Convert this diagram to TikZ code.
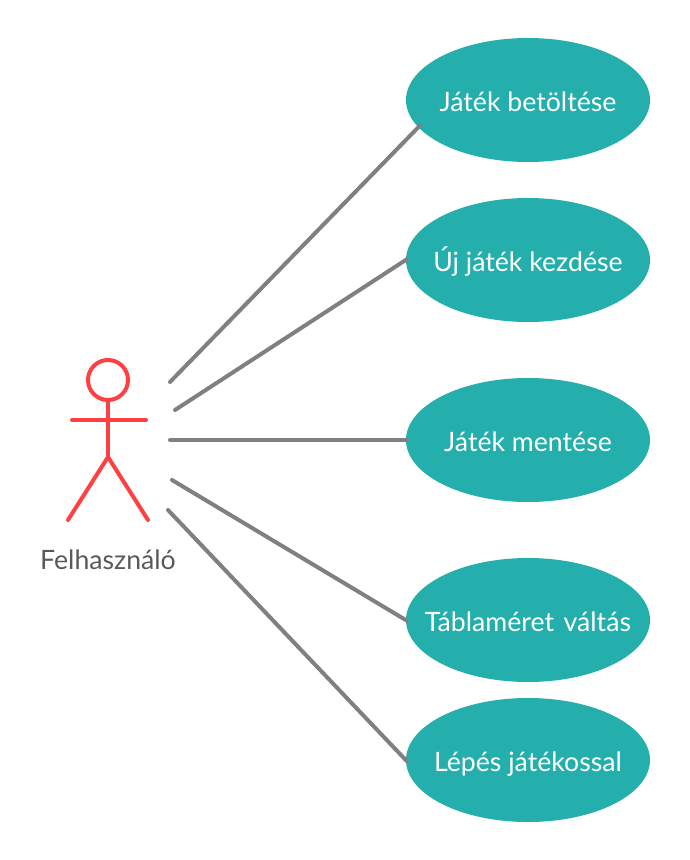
\documentclass[tikz,border=0pt]{standalone}
\usepackage{fontspec}
\setmainfont{Lato}
\usetikzlibrary{shapes.geometric}
\definecolor{usecasefill}{RGB}{36,175,173}
\definecolor{actorred}{RGB}{255,64,66}
\definecolor{linkgray}{RGB}{128,128,128}
\definecolor{labelgray}{RGB}{89,89,89}
\tikzset{
  usecase/.style={ellipse,fill=usecasefill,text=white,minimum width=183pt,minimum height=93pt,inner ysep=0pt,inner xsep=-30pt,text height=18.8pt,text depth=2pt,font=\fontsize{20}{24}\selectfont},
  actorline/.style={draw=actorred,line width=3pt,line cap=round,line join=round},
  link/.style={draw=linkgray,line width=3pt,line cap=round,shorten >=-1pt},
}
\begin{document}
\begin{tikzpicture}[x=0.75pt,y=0.75pt,yscale=-1,xscale=1]
\useasboundingbox (0,0) rectangle (689,860);
% use cases
\node [usecase] (betoltes) at (528,100) {Játék betöltése};
\node [usecase] (kezdes) at (528,260) {Új játék kezdése};
\node [usecase] (mentes) at (528,440) {Játék mentése};
\node [usecase] (valtas) at (528,620) {Táblaméret \hspace{2pt}váltás};
\node [usecase] (lepes) at (528,760) {Lépés játékossal};
% actor
\node [circle,actorline,minimum size=30pt,inner sep=0pt] (fej) at (108,380) {};
\coordinate (csipo) at (108,457);
\coordinate (karbal) at (72,420);
\coordinate (karjobb) at (146,420);
\coordinate (labbal) at (68,520);
\coordinate (labjobb) at (148,520);
\draw [actorline] (fej.south) -- (csipo);
\draw [actorline] (karbal) -- (karjobb);
\draw [actorline] (labbal) -- (csipo) -- (labjobb);
\node [text=labelgray,font=\fontsize{20}{24}\selectfont] (felhasznalo) at (108,560) {Felhasználó};
% links
\coordinate (a) at (170,382);
\coordinate (b) at (175,410);
\coordinate (c) at (170,440);
\coordinate (d) at (172,480);
\coordinate (e) at (168,510);
\draw [link,shorten >=-2pt] (a) -- (betoltes.194);
\draw [link] (b) -- (kezdes.west);
\draw [link] (c) -- (mentes.west);
\draw [link] (d) -- (valtas.west);
\draw [link] (e) -- (lepes.west);
\end{tikzpicture}
\end{document}
